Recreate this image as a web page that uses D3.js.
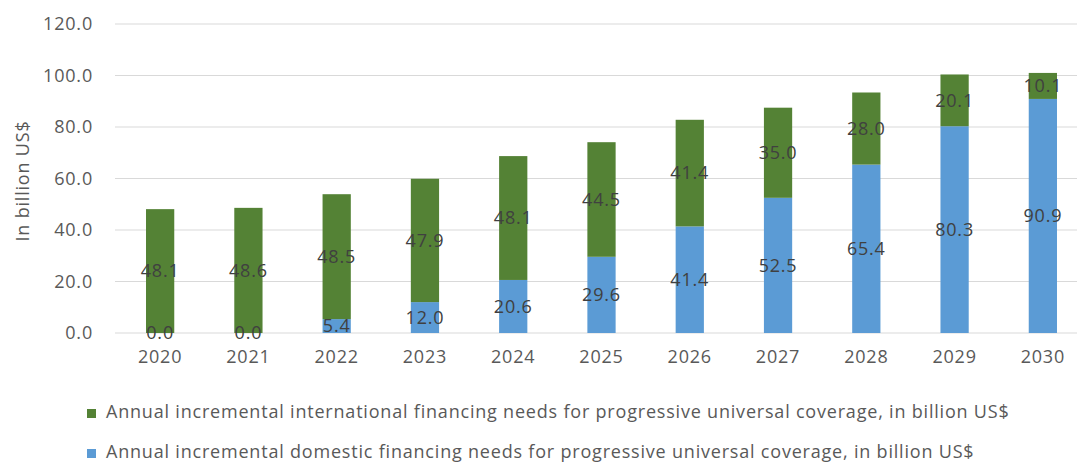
<!DOCTYPE html>
<html><head><meta charset="utf-8">
<script src="https://cdn.jsdelivr.net/npm/d3@7"></script>
<style>body{margin:0;background:#fff}svg{display:block}text{letter-spacing:0.8px}</style>
</head><body>
<script>
const years = ["2020","2021","2022","2023","2024","2025","2026","2027","2028","2029","2030"];
const domestic = [0.0, 0.0, 5.4, 12.0, 20.6, 29.6, 41.4, 52.5, 65.4, 80.3, 90.9];
const international = [48.1, 48.6, 48.5, 47.9, 48.1, 44.5, 41.4, 35.0, 28.0, 20.1, 10.1];
const yTicks = [0, 20, 40, 60, 80, 100, 120];
const seriesNames = [
  "Annual incremental international financing needs for progressive universal coverage, in billion US$",
  "Annual incremental domestic financing needs for progressive universal coverage, in billion US$"
];
const yTitle = "In billion US$";

const W = 1077, H = 464;
const svg = d3.select("body").append("svg").attr("width", W).attr("height", H);
const font = "'Open Sans', sans-serif";
const fs = 18;

const x = d3.scaleBand().domain(years).range([116, 1087]).paddingInner(0.68).paddingOuter(0.34);
const y = d3.scaleLinear().domain([0, 120]).range([333, 24]);

// gridlines
svg.append("g").selectAll("line").data(yTicks).join("line")
  .attr("x1", 115).attr("x2", W).attr("y1", d => y(d)).attr("y2", d => y(d))
  .attr("stroke", "#d9d9d9").attr("stroke-width", 1.2);

// y labels
svg.append("g").selectAll("text").data(yTicks).join("text")
  .attr("x", 93).attr("y", d => y(d)).attr("dy", "0.35em")
  .attr("text-anchor", "end").attr("font-family", font).attr("font-size", fs)
  .attr("fill", "#595959").text(d => d.toFixed(1));

// y title
svg.append("text").attr("transform", "translate(29,181) rotate(-90)")
  .attr("text-anchor", "middle").attr("font-family", font).attr("font-size", fs)
  .attr("fill", "#595959").text(yTitle);

// stack
const data = years.map((yr, i) => ({year: yr, domestic: domestic[i], international: international[i]}));
const stack = d3.stack().keys(["domestic", "international"])(data);
const colors = {domestic: "#5b9bd5", international: "#548235"};

const g = svg.append("g");
stack.forEach(layer => {
  g.append("g").selectAll("rect").data(layer).join("rect")
    .attr("x", d => x(d.data.year)).attr("width", x.bandwidth())
    .attr("y", d => y(d[1])).attr("height", d => y(d[0]) - y(d[1]))
    .attr("fill", colors[layer.key]);
});
stack.forEach(layer => {
  g.append("g").selectAll("text").data(layer).join("text")
    .attr("x", d => x(d.data.year) + x.bandwidth() / 2)
    .attr("y", d => y((d[0] + d[1]) / 2)).attr("dy", "0.35em")
    .attr("text-anchor", "middle").attr("font-family", font).attr("font-size", fs)
    .attr("fill", "#404040").text(d => (d[1] - d[0]).toFixed(1));
});

// x labels
svg.append("g").selectAll("text").data(years).join("text")
  .attr("x", d => x(d) + x.bandwidth() / 2).attr("y", 363)
  .attr("text-anchor", "middle").attr("font-family", font).attr("font-size", fs)
  .attr("fill", "#595959").text(d => d);

// legend
const legend = [
  {name: seriesNames[0], color: colors.international, y: 418},
  {name: seriesNames[1], color: colors.domestic, y: 458}
];
const lg = svg.append("g").selectAll("g").data(legend).join("g");
lg.append("rect").attr("x", 87).attr("y", d => d.y - 9).attr("width", 9).attr("height", 9).attr("fill", d => d.color);
lg.append("text").attr("x", 106).attr("y", d => d.y)
  .attr("font-family", font).attr("font-size", fs).attr("fill", "#595959").text(d => d.name);
</script>
</body></html>
